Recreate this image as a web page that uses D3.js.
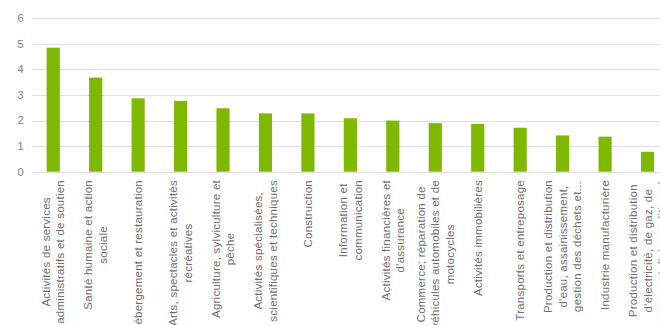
<!DOCTYPE html>
<html lang="fr">
<head>
<meta charset="utf-8"/>
<title>Secteurs</title>
<script src="https://cdnjs.cloudflare.com/ajax/libs/d3/7.8.5/d3.min.js"></script>
<style type="text/css">
  body { margin: 0; background: white; }
  svg { display: block; font-family: "Liberation Sans", Arial, sans-serif; }
  .grid line { stroke: #dedede; stroke-width: 1; }
  .tick-label { fill: #808080; font-size: 11px; }
  .cat-label { fill: #707070; font-size: 11.5px; letter-spacing: 0.25px; }
</style>
</head>
<body>
<div id="chart"></div>
<script>
// categories (line breaks = wrapped label lines)
var categories = [
  "Activités de services\nadministratifs et de soutien",
  "Santé humaine et action\nsociale",
  "Hébergement et restauration",
  "Arts, spectacles et activités\nrécréatives",
  "Agriculture, sylviculture et\npêche",
  "Activités spécialisées,\nscientifiques et techniques",
  "Construction",
  "Information et\ncommunication",
  "Activités financières et\nd'assurance",
  "Commerce; réparation de\nvéhicules automobiles et de\nmotocycles",
  "Activités immobilières",
  "Transports et entreposage",
  "Production et distribution\nd'eau, assainissement,\ngestion des déchets et...",
  "Industrie manufacturière",
  "Production et distribution\nd'électricité, de gaz, de\nvapeur et d'air conditionné"
];
var values = [4.85, 3.68, 2.87, 2.77, 2.48, 2.28, 2.28, 2.09, 2.0, 1.9, 1.87, 1.72, 1.42, 1.37, 0.78];
var yTicks = [0, 1, 2, 3, 4, 5, 6];

var width = 660, height = 325;
var svg = d3.select("#chart").append("svg")
    .attr("width", width)
    .attr("height", height);

var x = d3.scaleBand()
    .domain(d3.range(categories.length))
    .range([32, 668.75])
    .paddingInner(0.69)
    .paddingOuter(0.345);

var y = d3.scaleLinear()
    .domain([0, 6])
    .range([171.7, 18.3]);

// grid lines
svg.append("g").attr("class", "grid")
  .selectAll("line")
  .data(yTicks)
  .enter().append("line")
    .attr("x1", 32)
    .attr("x2", 670)
    .attr("y1", function(d){ return Math.round(y(d)) + 0.5; })
    .attr("y2", function(d){ return Math.round(y(d)) + 0.5; });

// y labels
svg.append("g")
  .selectAll("text")
  .data(yTicks)
  .enter().append("text")
    .attr("class", "tick-label")
    .attr("x", 23.5)
    .attr("y", function(d){ return y(d); })
    .attr("dy", "0.35em")
    .attr("text-anchor", "end")
    .text(function(d){ return d; });

// bars
svg.append("g")
  .selectAll("rect")
  .data(values)
  .enter().append("rect")
    .attr("x", function(d, i){ return x(i); })
    .attr("width", x.bandwidth())
    .attr("y", function(d){ return y(d); })
    .attr("height", function(d){ return y(0) - y(d); })
    .attr("fill", "#7fb800");

// category labels, rotated, lines centred on the longest one
var lh = 14.5, labelTop = 180;
var labels = svg.append("g")
  .selectAll("g")
  .data(categories)
  .enter().append("g");

labels.each(function(d, i){
  var g = d3.select(this);
  var lines = d.split("\n");
  var t = g.append("text")
      .attr("class", "cat-label")
      .attr("text-anchor", "middle")
      .attr("dominant-baseline", "central");
  lines.forEach(function(l, k){
    t.append("tspan")
      .attr("x", 0)
      .attr("y", (k - (lines.length - 1) / 2) * lh)
      .text(l);
  });
  var maxW = 0;
  t.selectAll("tspan").each(function(){
    maxW = Math.max(maxW, this.getComputedTextLength());
  });
  var cx = x(i) + x.bandwidth() / 2;
  g.attr("transform", "translate(" + cx + "," + (labelTop + maxW / 2) + ") rotate(-90)");
});
</script>
</body>
</html>
